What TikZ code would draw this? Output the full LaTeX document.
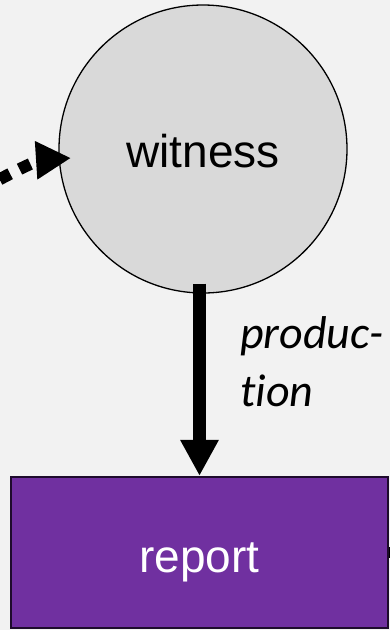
\documentclass[tikz,border=0pt]{standalone}
\usepackage{fontspec}
\setmainfont{Liberation Sans}
\newfontfamily\carlfont[Ligatures=NoCommon]{Carlito}
\usetikzlibrary{arrows.meta}
\definecolor{bg}{HTML}{F2F2F2}
\definecolor{circfill}{HTML}{D9D9D9}
\definecolor{rptpurple}{HTML}{7030A0}
\definecolor{rptborder}{HTML}{1E0B2C}
\tikzset{
  bigfont/.style={font=\fontsize{46}{55}\selectfont},
  statecircle/.style={circle, draw=black, line width=1.3pt, fill=circfill, minimum size=288pt, inner sep=0pt, text height=36pt, text depth=0pt, bigfont},
  reportbox/.style={rectangle, draw=rptborder, line width=2.2pt, fill=rptpurple, text=white, minimum width=377pt, minimum height=151pt, inner sep=0pt, text height=39pt, text depth=0pt, bigfont},
  flowarrow/.style={line width=13pt, -{Triangle[length=36pt,width=36pt]}},
  dottedarrow/.style={line width=12pt, dash pattern=on 12pt off 10.5pt, dash phase=7pt, -{Triangle[length=35pt,width=36pt]}},
  edgelabel/.style={font=\carlfont\itshape\fontsize{46}{58}\selectfont, inner sep=0pt, align=left}
}
\begin{document}
\begin{tikzpicture}[x=1pt,y=-1pt]
\fill[bg] (0,0) rectangle (390,630);
\useasboundingbox (0,0) rectangle (390,630);
\node[statecircle] (w) at (203,149) {witness};
\node[reportbox] (r) at (199.5,552.5) {report};
\coordinate (src) at (-14,187);
\coordinate (tip) at (71,158);
\coordinate (stub) at (405,552.5);
\draw[dottedarrow] (src) .. controls (15,170) and (40,160) .. (tip);
\draw[flowarrow] ([yshift=10pt]r.north |- w.south) -- (r.north);
\draw[line width=11pt] (r.east) -- (stub);
\node[edgelabel, anchor=base west] (lbl) at (240,406) {produc-\\tion};
\end{tikzpicture}
\end{document}
